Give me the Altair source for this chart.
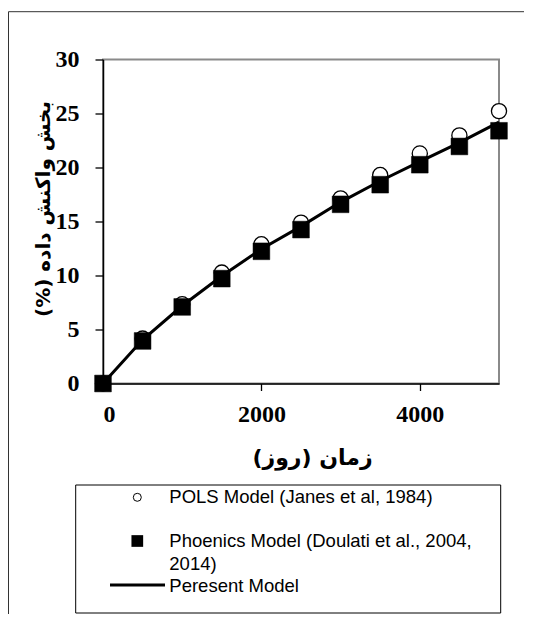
import altair as alt
import pandas as pd

days = [0, 500, 1000, 1500, 2000, 2500, 3000, 3500, 4000, 4500, 5000]
pols = [0, 4.16, 7.34, 10.27, 12.89, 14.89, 17.14, 19.3, 21.3, 22.97, 25.22]
phoenics = [0, 3.94, 7.09, 9.71, 12.24, 14.25, 16.59, 18.41, 20.26, 21.95, 23.4]
present = [0, 4.05, 7.2, 9.95, 12.45, 14.55, 16.8, 18.75, 20.55, 22.3, 24.2]

S1 = "POLS Model (Janes et al, 1984)"
S2 = "Phoenics Model (Doulati et al., 2004, 2014)"
S3 = "Peresent Model"
x_ticks = [0, 2000, 4000]
y_ticks = [0, 5, 10, 15, 20, 25, 30]
x_title = "زمان (روز)"
y_title = "(%) بخش واکنش داده"

df1 = pd.DataFrame({"day": days, "value": pols, "series": S1})
df2 = pd.DataFrame({"day": days, "value": phoenics, "series": S2})
df3 = pd.DataFrame({"day": days, "value": present, "series": S3})
dummy = pd.DataFrame({"a": [0]})

X = alt.X("day:Q", scale=alt.Scale(domain=[0, 5000], nice=False),
          axis=alt.Axis(values=x_ticks, title=x_title, titleX=209, titleY=74,
                        titleBaseline="middle", labelPadding=12, tickSize=7, format="d"))
Y = alt.Y("value:Q", scale=alt.Scale(domain=[0, 30], nice=False),
          axis=alt.Axis(values=y_ticks, title=y_title, titleX=-60, titleY=149,
                        titleAngle=270, titleBaseline="middle", titleAlign="center",
                        titleFontSize=20, tickSize=8, labelPadding=16))

circles = alt.Chart(df1).mark_point(shape="circle", stroke="black", fill="white", filled=True,
                                    strokeWidth=1.3, size=230, opacity=1).encode(x=X, y=Y)
line = alt.Chart(df3).mark_line(color="black", strokeWidth=3).encode(x=X, y=Y)
squares = alt.Chart(df2).mark_point(shape="square", fill="black", stroke="black", filled=True,
                                    strokeWidth=0.5, size=280, opacity=1).encode(x=X, y=Y)

# page frame
frame_top = alt.Chart(dummy).mark_rule(color="#333", strokeWidth=1).encode(
    x=alt.value(-94.5), x2=alt.value(430), y=alt.value(-47.8))
frame_left = alt.Chart(dummy).mark_rule(color="#333", strokeWidth=1).encode(
    x=alt.value(-94.5), y=alt.value(-47.8), y2=alt.value(600))

# legend (box, symbols, labels)
legend_box = alt.Chart(dummy).mark_rect(fill="white", stroke="black", strokeWidth=1).encode(
    x=alt.value(-27.3), x2=alt.value(397.7), y=alt.value(425.5), y2=alt.value(553.5))
leg_circle = alt.Chart(dummy).mark_point(shape="circle", filled=True, fill="white", stroke="black",
                                         strokeWidth=1, size=64, opacity=1).encode(
    x=alt.value(34.3), y=alt.value(437.8))
leg_square = alt.Chart(dummy).mark_point(shape="square", filled=True, fill="black", stroke="black",
                                         strokeWidth=0, size=137, opacity=1).encode(
    x=alt.value(34.3), y=alt.value(481.5))
leg_line = alt.Chart(dummy).mark_rule(color="black", strokeWidth=3).encode(
    x=alt.value(7), x2=alt.value(62), y=alt.value(525.5))

text_style = dict(font="Liberation Sans", fontSize=18.5, color="black", align="left",
                  baseline="alphabetic", lineHeight=23.2)
leg_t1 = alt.Chart(pd.DataFrame({"label": [S1]})).mark_text(**text_style).encode(
    text="label:N", x=alt.value(66.3), y=alt.value(443.8))
leg_t2 = alt.Chart(pd.DataFrame({"label": [S2]})).transform_calculate(
    label2="split(replace(datum.label, '2004, ', '2004,|'), '|')"
).mark_text(**text_style).encode(
    text="label2:N", x=alt.value(66.3), y=alt.value(487.8))
leg_t3 = alt.Chart(pd.DataFrame({"label": [S3]})).mark_text(**text_style).encode(
    text="label:N", x=alt.value(66.3), y=alt.value(532.2))

chart = alt.layer(frame_top, frame_left, legend_box, circles, line, squares,
                  leg_circle, leg_square, leg_line, leg_t1, leg_t2, leg_t3).properties(
    width=396, height=324,
    padding={"left": 95, "top": 51.5, "right": 25, "bottom": 230.5},
    autosize=alt.AutoSizeParams(type="none"),
    background="white",
).configure_view(
    stroke="#8a8a8a", strokeWidth=2
).configure_axis(
    grid=False, domainColor="black", domainWidth=1.5, tickColor="black", tickWidth=1.3,
    labelFont="Liberation Serif", labelFontWeight="bold", labelFontSize=24, labelColor="black",
    titleFont="DejaVu Sans", titleFontWeight="bold", titleFontSize=22, titleColor="black",
)

chart.save("out.html", embed_options={"renderer": "svg", "actions": False})
